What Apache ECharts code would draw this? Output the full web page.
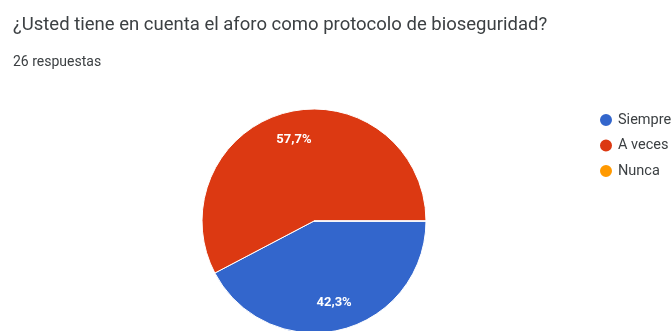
<!DOCTYPE html>
<html>
<head>
<meta charset="utf-8">
<script src="https://cdn.jsdelivr.net/npm/echarts@6/dist/echarts.min.js"></script>
<style>
html,body{margin:0;padding:0;background:#fff;}
#chart{width:671px;height:331px;}
</style>
</head>
<body>
<div id="chart"></div>
<script>
const categories = ['Siempre', 'A veces', 'Nunca'];
const counts = [11, 15, 0];
const colors = ['#3366cc', '#dc3912', '#ff9900'];
const titleText = '¿Usted tiene en cuenta el aforo como protocolo de bioseguridad?';
const subtitleText = '26 respuestas';

const data = categories.map((c, i) => ({ name: c, value: counts[i] }));
const total = counts.reduce((a, b) => a + b, 0);
const fmt = p => (p.value / total * 100).toFixed(1).replace('.', ',') + '%';

const chart = echarts.init(document.getElementById('chart'));
chart.setOption({
  animation: false,
  color: colors,
  title: {
    text: titleText,
    subtext: subtitleText,
    left: 8,
    top: 11,
    itemGap: 20,
    textStyle: { fontFamily: 'Roboto', fontSize: 18.5, fontWeight: 'normal', color: '#3c4043' },
    subtextStyle: { fontFamily: 'Roboto', fontSize: 14, color: '#3c4043' }
  },
  legend: {
    orient: 'vertical',
    left: 593,
    top: 107,
    icon: 'circle',
    itemWidth: 14,
    itemHeight: 14,
    itemGap: 9.5,
    data: categories,
    textStyle: { fontFamily: 'Roboto', fontSize: 14.5, color: '#3c4043' }
  },
  series: [
    {
      type: 'pie',
      center: [314, 221],
      radius: 112,
      startAngle: 0,
      clockwise: true,
      data: data,
      label: { show: false },
      labelLine: { show: false },
      itemStyle: { borderColor: '#ffffff', borderWidth: 1 },
      emphasis: { disabled: true }
    },
    {
      type: 'pie',
      center: [314, 221],
      radius: 162,
      startAngle: 0,
      clockwise: true,
      silent: true,
      data: data,
      itemStyle: { color: 'rgba(0,0,0,0)' },
      label: {
        show: true,
        position: 'inside',
        formatter: p => p.value > 0 ? fmt(p) : '',
        color: '#ffffff',
        fontFamily: 'Roboto',
        fontSize: 13,
        fontWeight: 'bold'
      },
      labelLine: { show: false },
      emphasis: { disabled: true }
    }
  ]
});
</script>
</body>
</html>
